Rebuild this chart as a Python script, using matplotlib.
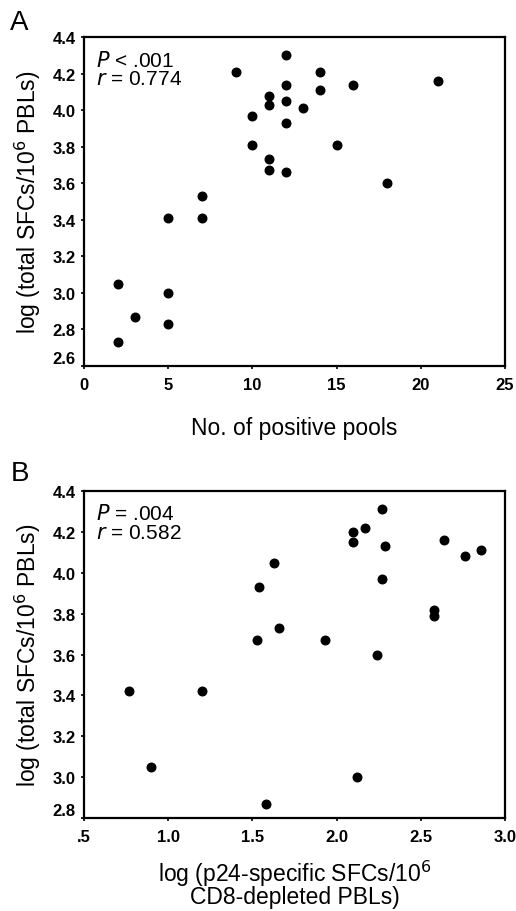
import matplotlib.pyplot as plt
from matplotlib.transforms import ScaledTranslation

plt.rcParams['font.family'] = ['Liberation Sans', 'DejaVu Sans']

# Panel A: number of positive pools vs log total SFCs
pools = [2, 2, 3, 5, 5, 5, 7, 7, 9, 10, 10, 11, 11, 11, 11,
         12, 12, 12, 12, 12, 13, 14, 14, 15, 16, 18, 21]
log_total_a = [2.73, 3.05, 2.87, 2.83, 3.00, 3.41, 3.41, 3.53, 4.21, 3.97, 3.81,
               4.08, 4.03, 3.73, 3.67, 4.30, 4.14, 4.05, 3.93, 3.66, 4.01,
               4.21, 4.11, 3.81, 4.14, 3.60, 4.16]

# Panel B: log p24-specific SFCs (CD8-depleted) vs log total SFCs
log_p24 = [0.77, 0.90, 1.20, 1.53, 1.54, 1.58, 1.63, 1.66, 1.93, 2.10, 2.10,
           2.12, 2.17, 2.24, 2.27, 2.27, 2.29, 2.58, 2.58, 2.64, 2.76, 2.86]
log_total_b = [3.42, 3.05, 3.42, 3.67, 3.93, 2.87, 4.05, 3.73, 3.67, 4.20, 4.15,
               3.00, 4.22, 3.60, 4.31, 3.97, 4.13, 3.82, 3.79, 4.16, 4.08, 4.11]

a_xticks = [0, 5, 10, 15, 20, 25]
b_xticks = [0.5, 1.0, 1.5, 2.0, 2.5, 3.0]
b_xticklabels = [".5", "1.0", "1.5", "2.0", "2.5", "3.0"]
a_yticks = [2.6, 2.8, 3.0, 3.2, 3.4, 3.6, 3.8, 4.0, 4.2, 4.4]
b_yticks = [2.8, 3.0, 3.2, 3.4, 3.6, 3.8, 4.0, 4.2, 4.4]

ylabel = "log (total SFCs/10$^6$ PBLs)"

fig = plt.figure(figsize=(5.16, 9.12), dpi=100)
ax_a = fig.add_axes([0.1628, 0.5976, 0.8159, 0.3607])
ax_b = fig.add_axes([0.1628, 0.1020, 0.8159, 0.3585])

# the lowest y tick label is pushed up off the x axis in the original
lift = ScaledTranslation(0, 9 / 100, fig.dpi_scale_trans)


def style(ax):
    for sp in ax.spines.values():
        sp.set_linewidth(1.6)
        sp.set_color("black")
    ax.tick_params(direction="out", length=2, width=1.2,
                   labelsize=12, top=False, right=False)
    ax.tick_params(axis="x", pad=6)
    ax.tick_params(axis="y", pad=4)
    for lab in ax.get_xticklabels() + ax.get_yticklabels():
        lab.set_fontweight("bold")
    low = ax.get_yticklabels()[0]
    low.set_transform(low.get_transform() + lift)
    ax.set_ylabel(ylabel, fontsize=16.5, labelpad=7)


## Panel A
ax_a.scatter(pools, log_total_a, s=38, color="black", zorder=3)
ax_a.set_xlim(0, 25)
ax_a.set_ylim(2.6, 4.4)
ax_a.set_xticks(a_xticks)
ax_a.set_yticks(a_yticks)
ax_a.set_yticklabels([f"{v:.1f}" for v in a_yticks])
ax_a.set_xlabel("No. of positive pools", fontsize=16.5, labelpad=17)
style(ax_a)
ax_a.text(0.028, 0.962, "$P$ < .001\n$r$ = 0.774", transform=ax_a.transAxes,
          fontsize=15, va="top", ha="left", linespacing=0.95,
          math_fontfamily="dejavusans")

## Panel B
ax_b.scatter(log_p24, log_total_b, s=38, color="black", zorder=3)
ax_b.set_xlim(0.5, 3.0)
ax_b.set_ylim(2.8, 4.4)
ax_b.set_xticks(b_xticks)
ax_b.set_xticklabels(b_xticklabels)
ax_b.set_yticks(b_yticks)
ax_b.set_yticklabels([f"{v:.1f}" for v in b_yticks])
ax_b.set_xlabel("log (p24-specific SFCs/10$^6$\nCD8-depleted PBLs)",
                fontsize=16.5, labelpad=10, linespacing=0.85)
style(ax_b)
ax_b.text(0.028, 0.962, "$P$ = .004\n$r$ = 0.582", transform=ax_b.transAxes,
          fontsize=15, va="top", ha="left", linespacing=0.95,
          math_fontfamily="dejavusans")

fig.text(0.038, 0.9748, "A", fontsize=20, ha="center", va="center")
fig.text(0.039, 0.4803, "B", fontsize=20, ha="center", va="center")

fig.savefig("out.png", dpi=100)
